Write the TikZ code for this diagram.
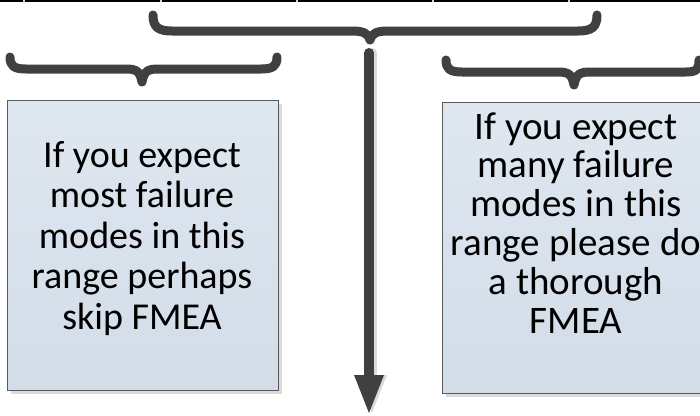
\documentclass[tikz,border=0pt]{standalone}
\usepackage{fontspec}
\setmainfont{Carlito}
\definecolor{braceGray}{HTML}{404040}
\definecolor{boxBorder}{HTML}{5A5A5A}
\definecolor{boxTop}{HTML}{DFE7F0}
\definecolor{boxBot}{HTML}{D2DDE8}
\definecolor{shadowGray}{HTML}{DADADA}
\begin{document}
\begin{tikzpicture}[x=1pt,y=-1pt,
  brace/.style={draw=braceGray, line width=9pt, line cap=round, line join=round},
  boxstyle/.style={draw=boxBorder, line width=1.3pt, top color=boxTop, bottom color=boxBot, inner sep=0pt},
  shadowstyle/.style={fill=shadowGray, draw=none},
  txt/.style={font=\fontsize{38}{40}\selectfont, anchor=base, inner sep=0pt, text=black},
  txtr/.style={txt, font=\fontsize{39}{40}\selectfont}]
\useasboundingbox (0,0) rectangle (700,415);
\clip (0,0) rectangle (700,415);
% top table edge
\draw[black, line width=2pt] (0,1) -- (700,1);
\foreach \x in {24,161,297,433,569} \fill[gray!35] (\x-0.8,0) rectangle (\x+0.8,2.2);
% top brace
\draw[brace] (153,15) .. controls (153,27) and (158,31) .. (172,31) -- (352,31)
  .. controls (363,31) and (368,33) .. (370,40)
  .. controls (372,33) and (377,31) .. (388,31) -- (578,31)
  .. controls (592,31) and (597,27) .. (597,15);
% left brace
\draw[brace] (10,57) .. controls (10,66) and (14,69) .. (26,69) -- (126,69)
  .. controls (136,69) and (140,71) .. (142,82)
  .. controls (144,71) and (148,69) .. (158,69) -- (261,69)
  .. controls (273,69) and (277,66) .. (277,57);
% right brace
\draw[brace] (446,60) .. controls (446,69) and (450,72) .. (462,72) -- (558,72)
  .. controls (568,72) and (572,74) .. (574,85)
  .. controls (576,74) and (580,72) .. (590,72) -- (686,72)
  .. controls (697,72) and (699,69) .. (699,60);
% boxes with shadows
\fill[shadowstyle] (11,104) rectangle (282,394);
\fill[shadowstyle] (446,106) rectangle (717,397);
\node[boxstyle, anchor=north west, minimum width=271pt, minimum height=290pt] (leftbox) at (7,100) {};
\node[boxstyle, anchor=north west, minimum width=271pt, minimum height=291pt] (rightbox) at (442,102) {};
% texts
\foreach \t [count=\i] in {If you expect, most failure, modes in this, range perhaps, skip FMEA}
  \node[txt] (l\i) at ({142},{167+40.5*(\i-1)}) {\t};
\foreach \t [count=\i] in {If you expect, many failure, modes in this, range please do, a thorough, FMEA}
  \node[txtr] (r\i) at ({576},{139+38.8*(\i-1)}) {\t};
% arrow
\coordinate (aTop) at (369,53);
\coordinate (aHead) at (369,376);
\coordinate (aEnd) at (369,413);
\coordinate (hL) at (354,375);
\coordinate (hR) at (384,375);
\draw[shadowGray, line width=10pt, line cap=round] ([xshift=3pt]aTop) -- ([xshift=3pt]aHead);
\fill[shadowGray] ([xshift=3pt]hL) -- ([xshift=3pt]hR) -- ([xshift=3pt]aEnd) -- cycle;
\draw[braceGray, line width=10pt, line cap=round] (aTop) -- (aHead);
\fill[braceGray] (hL) -- (hR) -- (aEnd) -- cycle;
\end{tikzpicture}
\end{document}
